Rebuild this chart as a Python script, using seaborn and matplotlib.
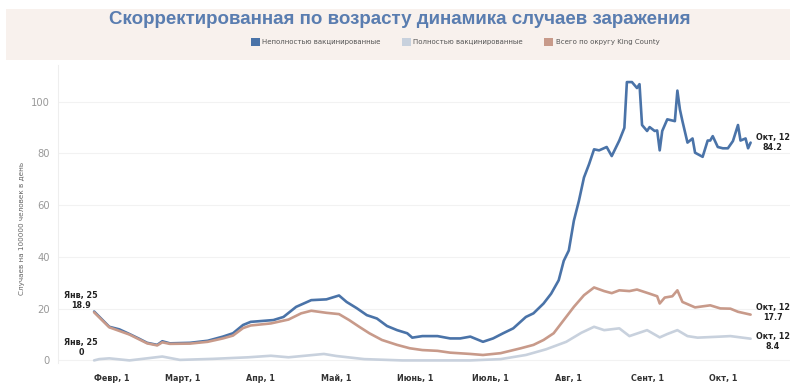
import pandas as pd
import matplotlib.pyplot as plt
from matplotlib.patches import Rectangle
import seaborn as sns

# Series: days since 25 Jan 2021 and cases per 100k per day
unvax_day = [0, 6, 10, 14, 18, 21, 25, 27, 30, 38, 45, 51, 55, 59, 62, 71, 75, 80, 86, 92,
             97, 100, 104, 108, 112, 116, 120, 124, 126, 130, 136, 141, 145, 149, 154, 158,
             162, 166, 171, 174, 178, 181, 184, 186, 188, 190, 192, 194, 196, 198, 200, 203,
             205, 208, 210, 211, 213, 215, 216, 217, 219, 220, 222, 223, 224, 225, 227, 230,
             231, 232, 233, 235, 237, 238, 241, 243, 244, 245, 247, 249, 251, 253, 255, 256,
             258, 259, 260]
unvax_val = [18.9, 13.0, 12.0, 10.2, 8.3, 6.8, 6.0, 7.4, 6.6, 6.8, 7.6, 9.2, 10.5, 13.7, 14.9,
             15.6, 16.8, 20.7, 23.3, 23.6, 25.1, 22.6, 20.2, 17.5, 16.2, 13.3, 11.7, 10.5, 8.8,
             9.4, 9.4, 8.5, 8.5, 9.2, 7.2, 8.5, 10.5, 12.4, 16.8, 18.2, 22.0, 25.8, 31.0, 38.5,
             42.5, 54.0, 61.7, 70.7, 75.8, 81.6, 81.2, 82.5, 79.0, 85.0, 89.9, 107.6, 107.6,
             105.3, 106.8, 91.0, 88.7, 90.2, 88.7, 88.9, 81.2, 88.7, 93.2, 92.5, 104.3, 97.0,
             92.5, 84.2, 85.8, 80.3, 78.7, 85.0, 85.0, 86.7, 82.5, 82.0, 82.0, 84.8, 91.0, 85.0,
             85.8, 82.0, 84.2]

vax_day = [0, 2, 6, 14, 27, 34, 47, 61, 70, 77, 91, 96, 107, 122, 149, 161, 171, 179, 187,
           193, 198, 202, 208, 212, 219, 224, 227, 231, 235, 239, 248, 252, 260]
vax_val = [0.0, 0.5, 0.8, 0.0, 1.5, 0.2, 0.6, 1.2, 1.8, 1.2, 2.5, 1.7, 0.5, 0.0, 0.0, 0.5, 2.1,
           4.3, 7.2, 10.7, 13.0, 11.7, 12.4, 9.4, 11.7, 8.9, 10.2, 11.7, 9.4, 8.8, 9.2, 9.4, 8.4]

county_day = [0, 6, 14, 21, 25, 27, 30, 38, 45, 51, 55, 59, 62, 70, 77, 82, 86, 92, 97, 101,
              105, 109, 114, 120, 125, 130, 136, 141, 149, 154, 161, 169, 174, 178, 182, 186,
              190, 194, 198, 202, 205, 208, 212, 215, 220, 223, 224, 226, 229, 231, 233, 238,
              244, 248, 252, 255, 260]
county_val = [18.6, 12.8, 10.0, 6.6, 5.8, 7.0, 6.4, 6.5, 7.2, 8.5, 9.6, 12.5, 13.5, 14.3, 15.8,
              18.2, 19.2, 18.4, 17.9, 15.6, 13.0, 10.5, 7.9, 6.0, 4.7, 4.0, 3.7, 3.0, 2.5, 2.1,
              2.8, 4.7, 6.0, 7.9, 10.5, 15.6, 20.7, 25.2, 28.2, 26.8, 26.0, 27.1, 26.8, 27.4,
              25.8, 24.8, 22.0, 24.3, 24.8, 27.1, 22.6, 20.5, 21.3, 20.1, 20.0, 18.8, 17.7]

series_names = ["Неполностью вакцинированные", "Полностью вакцинированные", "Всего по округу King County"]
colors = ["#4a73a8", "#c8d1dd", "#c89a8a"]
month_ticks = ["2021-02-01", "2021-03-01", "2021-04-01", "2021-05-01", "2021-06-01",
               "2021-07-01", "2021-08-01", "2021-09-01", "2021-10-01"]
month_labels = ["Февр, 1", "Март, 1", "Апр, 1", "Май, 1", "Июнь, 1", "Июль, 1", "Авг, 1", "Сент, 1", "Окт, 1"]

start = pd.Timestamp("2021-01-25")
frames = []
for name, days, vals in zip(series_names, [unvax_day, vax_day, county_day],
                            [unvax_val, vax_val, county_val]):
    frames.append(pd.DataFrame({"date": start + pd.to_timedelta(days, unit="D"),
                                "value": vals, "series": name}))
df = pd.concat(frames, ignore_index=True)

sns.set_style("white")
plt.rcParams["font.family"] = ["DejaVu Sans"]

fig = plt.figure(figsize=(8, 3.9), dpi=100)
fig.patches.append(Rectangle((6 / 800, 1 - 60 / 390), 784 / 800, 51 / 390,
                             transform=fig.transFigure, facecolor="#f8f1ed", edgecolor="none", zorder=0))
fig.text(0.5, 1 - 19 / 390, "Скорректированная по возрасту динамика случаев заражения",
         ha="center", va="center", fontsize=13.5, fontweight="bold", color="#5a7db0",
         family=["Liberation Sans Narrow", "Liberation Sans"])

ax = fig.add_axes([58 / 800, 1 - 363 / 390, 732 / 800, 298 / 390])
sns.lineplot(data=df.iloc[::-1], x="date", y="value", hue="series", hue_order=series_names,
             palette=colors, linewidth=1.9, legend=False, ax=ax)
for ln in ax.lines:
    ln.set_solid_joinstyle("round")

ax.set_ylim(-1.0, 114.2)
ax.set_xlim(start - pd.Timedelta(days=14.3), start + pd.Timedelta(days=275.6))
ax.set_yticks([0, 20, 40, 60, 80, 100])
ax.set_xticks(pd.to_datetime(month_ticks))
ax.set_xticklabels(month_labels, fontsize=5.8, fontweight="bold", color="#333333")
ax.tick_params(axis="x", length=4, color="#cccccc", pad=4)
ax.tick_params(axis="y", length=3, color="#dddddd", labelsize=7.2, labelcolor="#999999", pad=3)
ax.grid(axis="y", color="#f2f2f2", linewidth=0.8)
for side in ["top", "right", "bottom"]:
    ax.spines[side].set_visible(False)
ax.spines["left"].set_color("#eeeeee")
ax.set_xlabel("")
ax.set_ylabel("")
fig.text(22 / 800, 1 - 228 / 390, "Случаев на 100000 человек в день", rotation=90,
         ha="center", va="center", fontsize=5.2, color="#666666")

# end labels
def label(day, val, text, dx, dy):
    ax.annotate(text, xy=(start + pd.Timedelta(days=day), val), xytext=(dx, dy),
                textcoords="offset pixels", ha="center", va="center", fontsize=5.8,
                fontweight="bold", color="#222222", linespacing=1.2)

label(0, unvax_val[0], f"Янв, 25\n{unvax_val[0]}", -13, 11)
label(0, vax_val[0], "Янв, 25\n0", -13, 13)
label(260, unvax_val[-1], f"Окт, 12\n{unvax_val[-1]}", 22, 0)
label(260, county_val[-1], f"Окт, 12\n{county_val[-1]}", 22, 2)
label(260, vax_val[-1], f"Окт, 12\n{vax_val[-1]}", 22, -3)

# legend
handles = [Rectangle((0, 0), 1, 1, facecolor=c, edgecolor="none") for c in colors]
fig.legend(handles, series_names, loc="center", bbox_to_anchor=(455 / 800, 1 - 42 / 390), ncol=3,
           frameon=False, fontsize=5, handlelength=1.3, handleheight=1.6, handletextpad=0.4,
           columnspacing=3.0, labelcolor="#555555")

fig.savefig("out.png", dpi=100)
